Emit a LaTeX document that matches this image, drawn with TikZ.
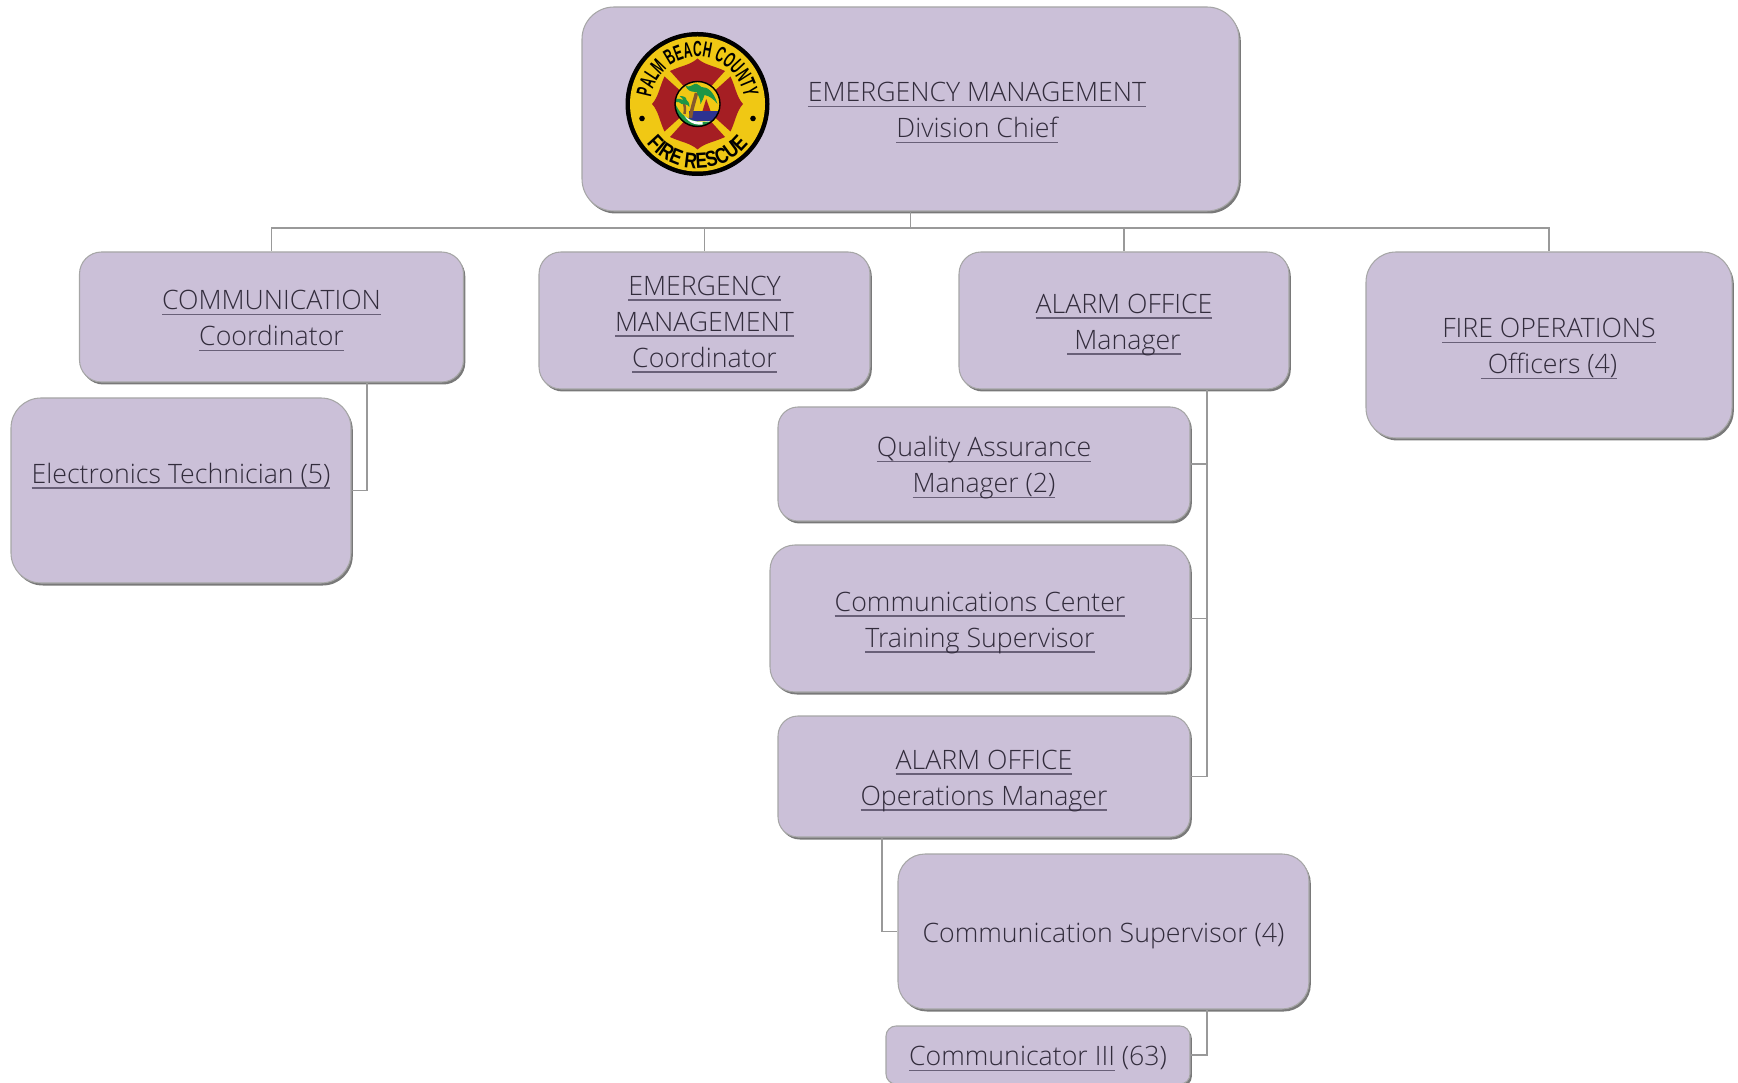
\documentclass[tikz,border=0pt]{standalone}
\usepackage{fontspec}
\setmainfont{Open Sans Light}
\newfontfamily\logofont[FakeStretch=.55]{Liberation Sans}
\newfontfamily\logowidefont[FakeStretch=.8]{Liberation Sans}
\usetikzlibrary{shadows,decorations.text}

\definecolor{boxlilac}{RGB}{203,192,216}
\definecolor{boxtextgrey}{RGB}{50,44,60}
\definecolor{ulgrey}{RGB}{105,96,120}
\definecolor{logoyellow}{RGB}{240,200,20}
\definecolor{logored}{RGB}{165,30,35}
\definecolor{logogreen}{RGB}{30,150,70}
\definecolor{logoblue}{RGB}{45,50,145}

% one line of a box: same height everywhere, descenders do not count
\newcommand{\plainline}[1]{\smash{#1}\rule{0pt}{6pt}}
\newcommand{\ulline}[1]{\smash{\rlap{\color{ulgrey}\underline{\phantom{\smash{#1}}}}#1}\rule{0pt}{6pt}}

\tikzset{
  orgbox/.style={draw=black!35, line width=.3pt, fill=boxlilac, align=center,
    text=boxtextgrey, font=\fontsize{7.6}{10.24}\selectfont,
    drop shadow={shadow xshift=.018cm, shadow yshift=-.025cm, fill=black!70, opacity=.75}},
  boxtitle/.style={align=center, text=boxtextgrey, font=\fontsize{7.6}{10.24}\selectfont},
  link/.style={draw=black!40, line width=.45pt},
  logotext/.style={decorate, decoration={text along path, text align=center, text={#1}}}
}

\begin{document}
\begin{tikzpicture}
\useasboundingbox (0,0) rectangle (17.38,10.82);

%________________________________________________%
\node[orgbox, rounded corners=.32cm, minimum width=6.57cm, minimum height=2.04cm] (chief) at (9.105,9.73) {};
\node[boxtitle] (chieftitle) at (9.77,9.73) {\ulline{EMERGENCY MANAGEMENT}\\\ulline{Division Chief}};
%________________________________________________%
\node[orgbox, rounded corners=.22cm, minimum width=3.84cm, minimum height=1.30cm] (comm) at (2.715,7.65) {\ulline{COMMUNICATION}\\\ulline{Coordinator}};
\node[orgbox, rounded corners=.22cm, minimum width=3.31cm, minimum height=1.37cm] (emc) at (7.045,7.615) {\ulline{EMERGENCY}\\\ulline{MANAGEMENT}\\\ulline{Coordinator}};
\node[orgbox, rounded corners=.22cm, minimum width=3.30cm, minimum height=1.37cm] (alarm) at (11.24,7.615) {\ulline{ALARM OFFICE}\\\ulline{\ Manager}};
\node[orgbox, rounded corners=.30cm, minimum width=3.66cm, minimum height=1.86cm] (fire) at (15.49,7.37) {\ulline{FIRE OPERATIONS}\\\ulline{\ Officers (4)}};
%________________________________________________%
\node[orgbox, rounded corners=.30cm, minimum width=3.40cm, minimum height=1.85cm] (tech) at (1.81,5.915) {\ulline{Electronics Technician (5)}\\\plainline{~}};
%________________________________________________%
\node[orgbox, rounded corners=.20cm, minimum width=4.12cm, minimum height=1.14cm] (qa) at (9.84,6.18) {\ulline{Quality Assurance}\\\ulline{Manager (2)}};
\node[orgbox, rounded corners=.25cm, minimum width=4.20cm, minimum height=1.47cm] (cc) at (9.80,4.635) {\ulline{Communications Center}\\\ulline{Training Supervisor}};
\node[orgbox, rounded corners=.20cm, minimum width=4.12cm, minimum height=1.21cm] (aoom) at (9.84,3.055) {\ulline{ALARM OFFICE}\\\ulline{Operations Manager}};
\node[orgbox, rounded corners=.27cm, minimum width=4.11cm, minimum height=1.55cm] (cs) at (11.035,1.505) {\plainline{Communication Supervisor (4)}};
\node[orgbox, rounded corners=.10cm, minimum width=3.04cm, minimum height=.58cm] (cthree) at (10.38,.27) {\ulline{Communicator III} \plainline{(63)}};
%________________________________________________%
% connectors
\coordinate (bus) at (9.105,8.54);
\coordinate (commdrop) at (3.67,7);
\coordinate (alarmdrop) at (12.07,7);
\coordinate (aoomdrop) at (8.82,2);

\foreach \kid in {comm,emc,alarm,fire}
  \draw[link] (chief.south) |- (bus -| \kid.north) -- (\kid.north);
\foreach \kid in {qa,cc,aoom}
  \draw[link] (alarmdrop |- alarm.south) |- (\kid.east);
\draw[link] (commdrop |- comm.south) |- (tech.east);
\draw[link] (aoomdrop |- aoom.south) |- (cs.west);
\draw[link] (alarmdrop |- cs.south) |- (cthree.east);
%________________________________________________%
% badge
\begin{scope}[shift={(6.975,9.78)}]
\fill[black] (0,0) circle (.72);
\fill[logoyellow] (0,0) circle (.675);
\foreach \ang in {0,90,180,270}
  \fill[logored, rotate=\ang] (-.135,.175) -- (-.275,.33)
    .. controls (-.17,.38) and (-.07,.39) .. (0,.455)
    .. controls (.07,.39) and (.17,.38) .. (.275,.33) -- (.135,.175)
    .. controls (.05,.215) and (-.05,.215) .. cycle;
\fill[black] (-.555,-.145) circle (.028);
\fill[black] (.555,-.145) circle (.028);
\path[logotext={|\logofont\bfseries\fontsize{6.2}{6.5}\selectfont|PALM BEACH COUNTY}] (177:.47) arc (177:3:.47);
\path[logotext={|\logowidefont\bfseries\fontsize{6.2}{6.5}\selectfont|FIRE RESCUE}] (213:.645) arc (213:327:.645);
\begin{scope}
\clip (0,0) circle (.225);
\fill[logoyellow] (-.23,-.23) rectangle (.23,.23);
\fill[logoblue] (-.09,-.17) rectangle (.23,-.07);
\fill[logored] (.05,-.07) -- (.087,.05) -- (.13,-.07) -- cycle;
\fill[logogreen] (-.23,.03) .. controls (-.19,-.1) and (-.1,-.17) .. (.05,-.18) -- (.05,-.25) -- (-.23,-.25) -- cycle;
\fill[white] (-.13,-.12) .. controls (-.08,-.17) and (0,-.19) .. (.12,-.17) -- (.1,-.2) .. controls (0,-.22) and (-.08,-.2) .. cycle;
\fill[logogreen] (.05,-.18) -- (.23,-.17) -- (.23,-.25) -- (.05,-.25) -- cycle;
\draw[brown!70!black, line width=1pt] (-.07,-.14) .. controls (-.06,-.05) and (-.03,.03) .. (-.01,.11);
\draw[brown!70!black, line width=.7pt] (-.13,-.1) .. controls (-.12,-.05) and (-.13,-.01) .. (-.14,.03);
\fill[logogreen] (-.01,.12) .. controls (-.08,.12) and (-.1,.14) .. (-.12,.18) .. controls (-.08,.17) and (-.06,.18) .. (-.03,.2)
  .. controls (-.02,.21) and (0,.2) .. (.04,.17) .. controls (.1,.17) and (.16,.13) .. (.2,.0)
  .. controls (.16,.05) and (.12,.08) .. (.07,.09) .. controls (.06,.06) and (.05,.03) .. (.03,.0)
  .. controls (.03,.05) and (.01,.08) .. cycle;
\fill[logogreen] (-.14,.04) .. controls (-.2,.06) and (-.22,.06) .. (-.23,.02) .. controls (-.19,.02) and (-.17,.02) .. (-.16,0)
  .. controls (-.14,.0) and (-.1,.0) .. (-.08,-.03) .. controls (-.08,.02) and (-.1,.03) .. (-.11,.04)
  .. controls (-.11,.07) and (-.14,.08) .. (-.18,.08) .. controls (-.16,.07) and (-.15,.05) .. cycle;
\end{scope}
\draw[black, line width=.4pt] (0,0) circle (.225);
\end{scope}
\end{tikzpicture}
\end{document}
